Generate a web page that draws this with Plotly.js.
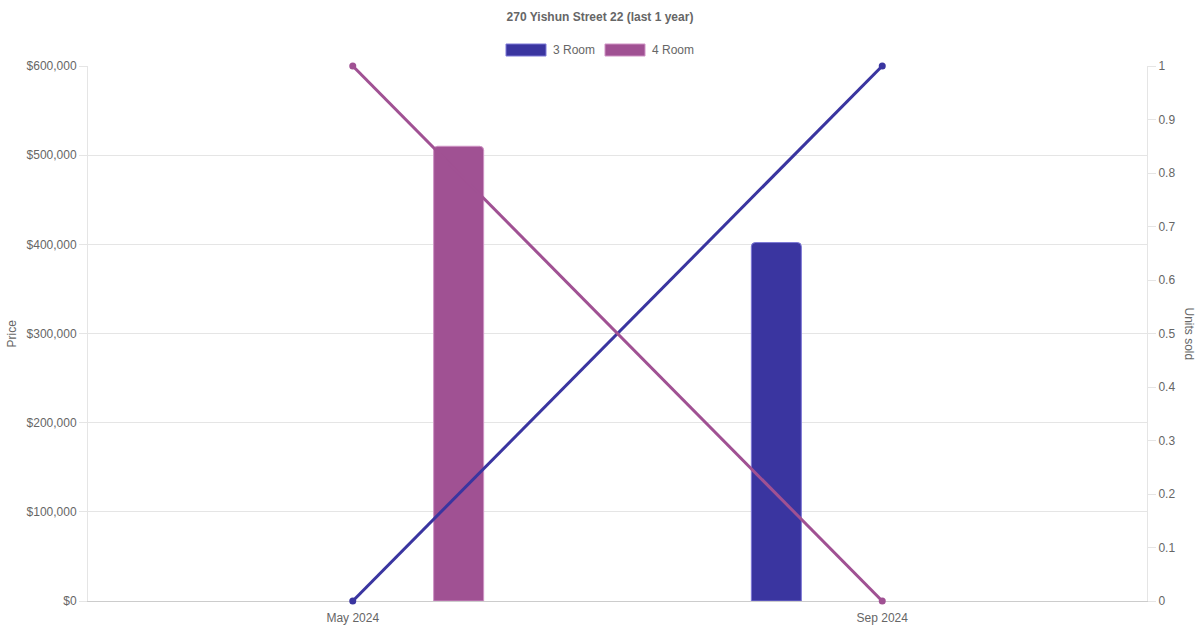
<!DOCTYPE html>
<html>
<head>
<meta charset="utf-8">
<script src="https://cdn.plot.ly/plotly-3.0.1.min.js"></script>
<style>html,body{margin:0;padding:0;background:#fff;}#chart{width:1200px;height:630px;}</style>
</head>
<body>
<div id="chart"></div>
<script>
// ---- data ----
const months = ['May 2024', 'Sep 2024'];
const seriesNames = ['3 Room', '4 Room'];
const price3Room = [null, 402000];
const price4Room = [510000, null];
const units3Room = [0, 1];
const units4Room = [1, 0];
const priceTicks = [0, 100000, 200000, 300000, 400000, 500000, 600000];
const priceTickLabels = ['$0', '$100,000', '$200,000', '$300,000', '$400,000', '$500,000', '$600,000'];
const unitTicks = [0, 0.1, 0.2, 0.3, 0.4, 0.5, 0.6, 0.7, 0.8, 0.9, 1];
const unitTickLabels = ['0', '0.1', '0.2', '0.3', '0.4', '0.5', '0.6', '0.7', '0.8', '0.9', '1'];
const chartTitle = '270 Yishun Street 22 (last 1 year)';

// ---- styles ----
const C3 = '#3a35a0', C3b = '#7c78d6';
const C4 = '#a05193', C4b = '#cf93c4';
const FONT = '"Liberation Sans", Arial, sans-serif';
const GRID = '#e5e5e5';
const TXT = '#666666';

const W = 1200, H = 630, ML = 88, MR = 53, MT = 66, MB = 29;
const PW = W - ML - MR, PH = H - MT - MB;
const px = x => (x - ML) / PW;
const py = y => (H - MB - y) / PH;

const barW = 50 / (PW / months.length);

const traces = [
  {type: 'bar', name: seriesNames[0], x: months, y: price3Room, yaxis: 'y',
   width: barW, offset: -0.2 - barW / 2,
   marker: {color: C3, line: {color: C3b, width: 1}}, showlegend: false},
  {type: 'bar', name: seriesNames[1], x: months, y: price4Room, yaxis: 'y',
   width: barW, offset: 0.2 - barW / 2,
   marker: {color: C4, line: {color: C4b, width: 1}}, showlegend: false},
  {type: 'scatter', mode: 'lines+markers', name: seriesNames[0], x: months, y: units3Room, yaxis: 'y2',
   line: {color: C3, width: 3}, marker: {color: C3, size: 7}, cliponaxis: false, showlegend: false},
  {type: 'scatter', mode: 'lines+markers', name: seriesNames[1], x: months, y: units4Room, yaxis: 'y2',
   line: {color: C4, width: 3}, marker: {color: C4, size: 7}, cliponaxis: false, showlegend: false}
];

const legendBoxes = [
  {x0: 506, name: seriesNames[0], color: C3, border: C3b},
  {x0: 605, name: seriesNames[1], color: C4, border: C4b}
];

const shapes = legendBoxes.map(b => ({
  type: 'rect', xref: 'paper', yref: 'paper',
  x0: px(b.x0), x1: px(b.x0 + 40), y0: py(56), y1: py(44),
  fillcolor: b.color, line: {color: b.border, width: 1}
}));

const annotations = legendBoxes.map(b => ({
  xref: 'paper', yref: 'paper', x: px(b.x0 + 45), y: py(50),
  xanchor: 'left', yanchor: 'middle', showarrow: false,
  text: b.name, font: {family: FONT, size: 12, color: TXT}
})).concat([
  {xref: 'paper', yref: 'paper', x: px(11), y: 0.5, xanchor: 'center', yanchor: 'middle',
   showarrow: false, textangle: -90, text: 'Price', font: {family: FONT, size: 12, color: TXT}},
  {xref: 'paper', yref: 'paper', x: px(1189), y: 0.5, xanchor: 'center', yanchor: 'middle',
   showarrow: false, textangle: 90, text: 'Units sold', font: {family: FONT, size: 12, color: TXT}}
]);

const layout = {
  width: W, height: H,
  margin: {l: ML, r: MR, t: MT, b: MB, pad: 0},
  paper_bgcolor: '#fff', plot_bgcolor: '#fff',
  font: {family: FONT, size: 12, color: TXT},
  title: {text: '<b>' + chartTitle + '</b>', font: {family: FONT, size: 12, color: TXT},
          x: 0.5, xref: 'container', xanchor: 'center', y: 1 - 17 / H, yref: 'container', yanchor: 'middle'},
  barmode: 'overlay',
  barcornerradius: 4,
  showlegend: false,
  xaxis: {type: 'category', categoryorder: 'array', categoryarray: months,
          showgrid: false, zeroline: false, showline: true, linecolor: '#cccccc', linewidth: 1,
          layer: 'below traces',
          ticks: 'outside', ticklen: 6, tickcolor: 'rgba(0,0,0,0)',
          tickfont: {family: FONT, size: 12, color: TXT}, fixedrange: true},
  yaxis: {range: [0, 600000], tickmode: 'array', tickvals: priceTicks, ticktext: priceTickLabels,
          showgrid: true, gridcolor: GRID, gridwidth: 1, zeroline: false,
          showline: true, linecolor: GRID, linewidth: 1, layer: 'below traces',
          ticks: 'outside', ticklen: 8, tickcolor: GRID, tickwidth: 1,
          tickfont: {family: FONT, size: 12, color: TXT}, fixedrange: true},
  yaxis2: {range: [0, 1], tickmode: 'array', tickvals: unitTicks, ticktext: unitTickLabels,
           overlaying: 'y', side: 'right',
           showgrid: false, zeroline: false, showline: true, linecolor: GRID, linewidth: 1,
           layer: 'below traces',
           ticks: 'outside', ticklen: 8, tickcolor: GRID, tickwidth: 1,
           tickfont: {family: FONT, size: 12, color: TXT}, fixedrange: true},
  shapes: shapes,
  annotations: annotations
};

Plotly.newPlot('chart', traces, layout, {displayModeBar: false, staticPlot: true});
</script>
</body>
</html>
